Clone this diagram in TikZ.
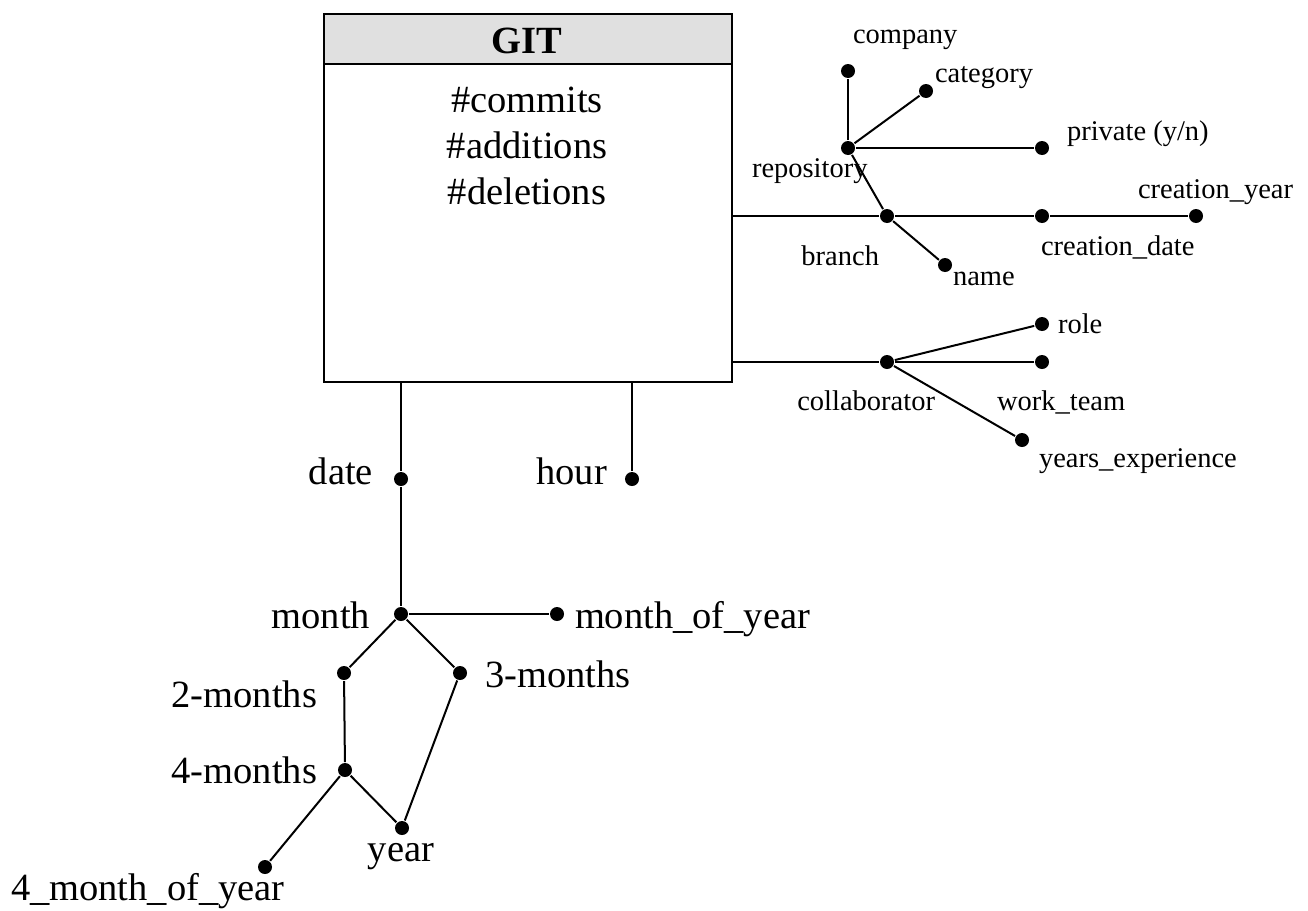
\documentclass[tikz,border=0pt]{standalone}
\usepackage{fontspec}
\setmainfont{Liberation Serif}
\definecolor{headgray}{HTML}{E0E0E0}
\begin{document}
\begin{tikzpicture}[x=1pt,y=-1pt,
  line width=2pt,
  dot/.style={circle,fill=black,inner sep=0pt,minimum size=14pt},
  big/.style={inner sep=0pt,font=\fontsize{38.5}{46}\selectfont},
  small/.style={inner sep=0pt,font=\fontsize{28.5}{34}\selectfont},
  conn/.style={draw=black,line width=2pt}]
\useasboundingbox (0,0) rectangle (1308,910);

% fact box
\node[draw,line width=2pt,minimum width=408pt,minimum height=368pt,anchor=north west,inner sep=0pt] (git) at (323,13) {};
\node[draw,line width=2pt,fill=headgray,minimum width=408pt,minimum height=50pt,anchor=north west,inner sep=0pt] (head) at (323,13) {};
\node[big,anchor=base,font=\fontsize{38.5}{46}\selectfont\bfseries] (gitt) at (527,53) {GIT};
\node[big,anchor=base] (m1) at (527,112) {\#commits};
\node[big,anchor=base] (m2) at (527,158) {\#additions};
\node[big,anchor=base] (m3) at (527,204) {\#deletions};

% time dimensions
\node[dot] (date) at (401,479) {};
\node[dot] (hour) at (632,479) {};
\node[dot] (month) at (401,614) {};
\node[dot] (moy) at (557,614) {};
\node[dot] (m2d) at (344,673) {};
\node[dot] (m3d) at (460,673) {};
\node[dot] (m4d) at (345,770) {};
\node[dot] (year) at (402,828) {};
\node[dot] (m4y) at (265,867) {};

\node[big,anchor=base east] (tdate) at (374,484) {date};
\node[big,anchor=base east] (thour) at (608,484) {hour};
\node[big,anchor=base east] (tmonth) at (371,628) {month};
\node[big,anchor=base west] (tmoy) at (574,628) {month\_of\_year};
\node[big,anchor=base east] (tm2) at (318,707) {2-months};
\node[big,anchor=base west] (tm3) at (484,687) {3-months};
\node[big,anchor=base east] (tm4) at (318,783) {4-months};
\node[big,anchor=base] (tyear) at (401,861) {year};
\node[big,anchor=base west] (tm4y) at (10,900) {4\_month\_of\_year};

\coordinate (dtop) at (git.south -| date);
\coordinate (htop) at (git.south -| hour);
\draw[conn] (dtop) -- (date) -- (month);
\draw[conn] (htop) -- (hour);
\draw[conn] (month) -- (moy);
\draw[conn] (month) -- (m2d);
\draw[conn] (month) -- (m3d);
\draw[conn] (m2d) -- (m4d);
\draw[conn] (m4d) -- (year);
\draw[conn] (m3d) -- (year);
\draw[conn] (m4d) -- (m4y);

% branch / repository
\node[dot] (branch) at (887,216) {};
\node[dot] (cdate) at (1042,216) {};
\node[dot] (cyear) at (1196,216) {};
\node[dot] (repo) at (848,148) {};
\node[dot] (name) at (945,265) {};
\node[dot] (company) at (848,71) {};
\node[dot] (category) at (926,91) {};
\node[dot] (private) at (1042,148) {};

\node[small,anchor=base west] (tcompany) at (852,43) {company};
\node[small,anchor=base west] (tcategory) at (934,82) {category};
\node[small,anchor=base west] (tprivate) at (1066,140) {private (y/n)};
\node[small,anchor=base west] (trepo) at (751,177) {repository};
\node[small,anchor=base east] (tbranch) at (880,265) {branch};
\node[small,anchor=base west] (tname) at (952,285) {name};
\node[small,anchor=base west] (tcdate) at (1040,255) {creation\_date};
\node[small,anchor=base west] (tcyear) at (1137,198) {creation\_year};

\coordinate (bstart) at (git.east |- branch);
\draw[conn] (bstart) -- (branch) -- (cdate) -- (cyear);
\draw[conn] (branch) -- (repo);
\draw[conn] (branch) -- (name);
\draw[conn] (repo) -- (company);
\draw[conn] (repo) -- (category);
\draw[conn] (repo) -- (private);

% collaborator
\node[dot] (collab) at (887,362) {};
\node[dot] (role) at (1042,324) {};
\node[dot] (team) at (1042,362) {};
\node[dot] (yexp) at (1022,440) {};

\node[small,anchor=base east] (tcollab) at (936,410) {collaborator};
\node[small,anchor=base west] (tteam) at (996,410) {work\_team};
\node[small,anchor=base west] (trole) at (1057,333) {role};
\node[small,anchor=base west] (tyexp) at (1038,467) {years\_experience};

\coordinate (cstart) at (git.east |- collab);
\draw[conn] (cstart) -- (collab) -- (team);
\draw[conn] (collab) -- (role);
\draw[conn] (collab) -- (yexp);
\end{tikzpicture}
\end{document}
